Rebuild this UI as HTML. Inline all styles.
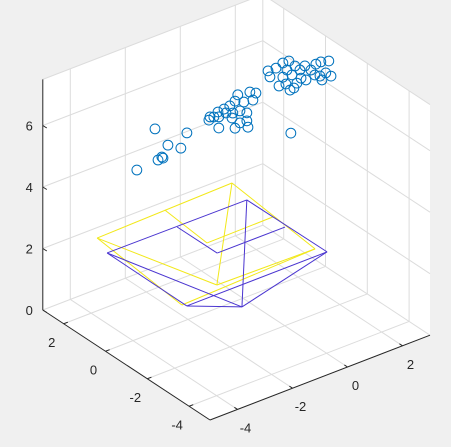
<!DOCTYPE html>
<html><head><meta charset="utf-8"><style>
html,body{margin:0;padding:0;background:#f0f0f0;}
svg{display:block;font-family:"Liberation Sans",sans-serif;}
</style></head><body>
<svg id="chart" width="451" height="447" viewBox="0 0 451 447"></svg>
<script>
const scatterX=[0.15,0.44,0.69,0.91,1.13,1.31,1.49,1.71,1.89,2.07,2.36,2.04,2.25,2.44,0.69,0.80,0.95,0.84,1.02,0.55,1.2,1.09,1.35,1.53,1.85,2.11,0.22,-0.95,-0.51,-0.29,-0.4,-0.73,-1.05,-1.24,-1.45,-1.67,-1.82,-2.0,-1.64,-1.38,-1.13,-0.87,-0.62,-0.62,-0.58,-0.87,-1.16,-1.05,-1.64,-1.96,0.98,-3.96,-2.8,-3.49,-3.02,-3.71,-3.85,-3.67,-4.62];
const scatterY=scatterX.map(()=>-1);
const scatterZ=[7.79,7.78,7.86,7.85,7.61,7.42,7.49,7.28,7.41,7.42,7.35,6.97,7.00,6.83,7.40,7.14,6.89,7.58,7.36,7.16,7.03,6.91,7.14,7.02,7.07,6.82,7.57,7.39,7.33,7.22,7.03,7.08,7.22,7.13,7.10,7.08,6.97,6.93,6.91,6.95,6.86,6.84,6.69,6.43,6.21,6.45,6.71,6.34,6.55,7.02,5.48,7.32,6.79,6.63,6.37,6.32,6.27,6.27,6.21];
const yellowX=[-3.39,1.62,1.23,-3.78,-2.28,-0.86,-1.04,1.38];
const yellowY=[2.52,2.66,-1.83,-2.05,-1.75,2.61,0.35,0.38];
const yellowZ=[2,2,2,2,2,2,2,2];
const yellowEdges=[[0,1],[1,2],[0,3],[3,2],[4,2],[0,4],[1,4],[5,6],[6,7]];
const blueX=[-3.68,1.37,1.40,-2.47,-3.70,-1.17,-1.16,1.30];
const blueY=[1.66,1.62,-2.18,-3.20,-2.18,1.61,-0.29,-0.30];
const blueZ=[2,2,2,2,2,2,2,2];
const blueEdges=[[0,1],[1,2],[0,4],[4,3],[3,2],[0,3],[4,2],[1,3],[5,6],[6,7]];
const xTicks=[-4,-2,0,2], yTicks=[-4,-2,0,2], zTicks=[0,2,4,6];
const XMIN=-5,XMAX=3,YMIN=-5,YMAX=3,ZMAX=7.5;

function px(x,y,z){return 210+(x-XMIN)*27.5-(y-YMIN)*20.9;}
function py(x,y,z){return 420-(x-XMIN)*10.6-(y-YMIN)*13.75-z*30.75;}
const NS="http://www.w3.org/2000/svg";
const svg=document.getElementById('chart');
function mk(t,a,parent){const e=document.createElementNS(NS,t);for(const k in a)e.setAttribute(k,a[k]);(parent||svg).appendChild(e);return e;}
function line3(p,q,stroke,w,parent){return mk('line',{x1:px(...p),y1:py(...p),x2:px(...q),y2:py(...q),stroke:stroke,'stroke-width':w},parent);}

const pts=[[XMIN,YMAX,ZMAX],[XMIN,YMAX,0],[XMIN,YMIN,0],[XMAX,YMIN,0],[XMAX,YMIN,ZMAX],[XMAX,YMAX,ZMAX]];
const bg=mk('polygon',{points:pts.map(p=>px(...p)+','+py(...p)).join(' '),fill:'#ffffff'});



const grid=mk('g',{});


const gc='#dcdcdc';
xTicks.forEach(v=>{line3([v,YMIN,0],[v,YMAX,0],gc,1,grid);line3([v,YMAX,0],[v,YMAX,ZMAX],gc,1,grid);});
yTicks.forEach(v=>{line3([XMIN,v,0],[XMAX,v,0],gc,1,grid);line3([XMAX,v,0],[XMAX,v,ZMAX],gc,1,grid);});
zTicks.forEach(v=>{line3([XMIN,YMAX,v],[XMAX,YMAX,v],gc,1,grid);line3([XMAX,YMIN,v],[XMAX,YMAX,v],gc,1,grid);});
line3([XMAX,YMAX,0],[XMAX,YMAX,ZMAX],gc,1,grid);
line3([XMIN,YMAX,ZMAX],[XMAX,YMAX,ZMAX],gc,1,grid);
line3([XMAX,YMIN,ZMAX],[XMAX,YMAX,ZMAX],gc,1,grid);

const ac='#262626';
const ax=mk('g',{});


line3([XMIN,YMIN,0],[XMAX,YMIN,0],ac,1,ax);
line3([XMIN,YMIN,0],[XMIN,YMAX,0],ac,1,ax);
line3([XMIN,YMAX,0],[XMIN,YMAX,ZMAX],ac,1,ax);
xTicks.forEach(v=>{
  line3([v,YMIN,0],[v,YMIN+0.15,0],ac,1,ax);
  const t=mk('text',{x:px(v,YMIN,0)+8,y:py(v,YMIN,0)+23,'font-size':13,fill:ac,'text-anchor':'middle'},ax);
  t.textContent=v;
  
  
});
yTicks.forEach(v=>{
  line3([XMIN,v,0],[XMIN+0.15,v,0],ac,1,ax);
  const t=mk('text',{x:px(XMIN,v,0)-12,y:py(XMIN,v,0)+23,'font-size':13,fill:ac,'text-anchor':'middle'},ax);
  t.textContent=v;
  
  
});
zTicks.forEach(v=>{
  mk('line',{x1:px(XMIN,YMAX,v),y1:py(XMIN,YMAX,v),x2:px(XMIN,YMAX,v)+4,y2:py(XMIN,YMAX,v)+2.5,stroke:ac},ax);
  const t=mk('text',{x:px(XMIN,YMAX,v)-10,y:py(XMIN,YMAX,v)+5,'font-size':13,fill:ac,'text-anchor':'end'},ax);
  t.textContent=v;
  
  
});

const yg=mk('g',{});


yellowEdges.forEach(([i,j])=>line3([yellowX[i],yellowY[i],yellowZ[i]],[yellowX[j],yellowY[j],yellowZ[j]],'#f2e81a',1,yg));
const bgp=mk('g',{});


blueEdges.forEach(([i,j])=>line3([blueX[i],blueY[i],blueZ[i]],[blueX[j],blueY[j],blueZ[j]],'#4a35d0',1,bgp));

const sg=mk('g',{});


scatterX.forEach((x,i)=>{
  const c=mk('circle',{cx:px(x,scatterY[i],scatterZ[i]),cy:py(x,scatterY[i],scatterZ[i]),r:4.9,fill:'none',stroke:'#0072bd','stroke-width':1},sg);
  
  
});
</script>
</body></html>
